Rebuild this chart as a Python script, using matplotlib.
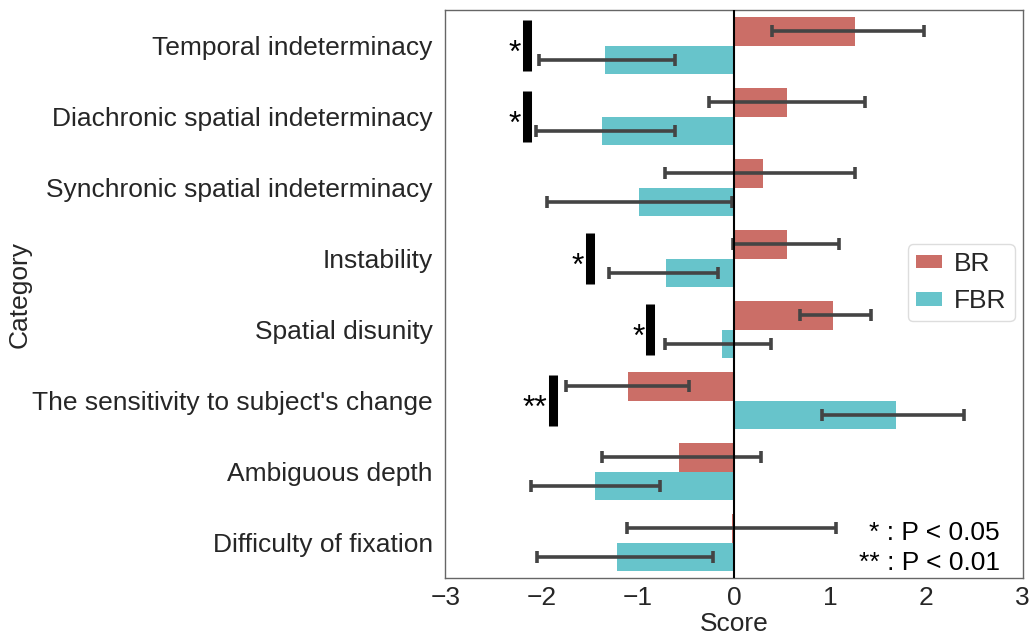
import numpy as np
import matplotlib
matplotlib.use('Agg')
import matplotlib.pyplot as plt

plt.rcParams['font.family'] = ['Liberation Sans', 'DejaVu Sans']

categories = ['Temporal indeterminacy', 'Diachronic spatial indeterminacy',
              'Synchronic spatial indeterminacy', 'Instability', 'Spatial disunity',
              "The sensitivity to subject's change", 'Ambiguous depth',
              'Difficulty of fixation']

# means and confidence limits
br_mean = [1.26, 0.55, 0.30, 0.55, 1.03, -1.10, -0.57, -0.02]
br_lo = [0.40, -0.26, -0.72, -0.01, 0.69, -1.74, -1.37, -1.11]
br_hi = [1.97, 1.36, 1.26, 1.09, 1.42, -0.47, 0.28, 1.06]
fbr_mean = [-1.34, -1.37, -0.99, -0.71, -0.12, 1.68, -1.44, -1.21]
fbr_lo = [-2.03, -2.06, -1.94, -1.30, -0.72, 0.91, -2.11, -2.05]
fbr_hi = [-0.61, -0.61, -0.02, -0.17, 0.39, 2.39, -0.77, -0.22]

# significance markers
sig_idx = [0, 1, 3, 4, 5]
sig_x = [-2.15, -2.15, -1.50, -0.87, -1.88]
sig_label = ['*', '*', '*', '*', '**']

br_color = '#cb6e67'
fbr_color = '#67c4cb'
text_color = '#262626'
fs = 19

fig = plt.figure(figsize=(10.33, 6.36), dpi=100)
ax = fig.add_axes([0.431, 0.091, 0.559, 0.893])

y = np.arange(len(categories))
h = 0.4
br_mean = np.array(br_mean); fbr_mean = np.array(fbr_mean)
br_err = [br_mean - np.array(br_lo), np.array(br_hi) - br_mean]
fbr_err = [fbr_mean - np.array(fbr_lo), np.array(fbr_hi) - fbr_mean]

err_kw = dict(ecolor='#444444', elinewidth=2.6, capsize=4.5, capthick=2.6)
ax.barh(y - h / 2, br_mean, height=h, color=br_color, label='BR',
        xerr=br_err, error_kw=err_kw)
ax.barh(y + h / 2, fbr_mean, height=h, color=fbr_color, label='FBR',
        xerr=fbr_err, error_kw=err_kw)

ax.axvline(0, color='black', lw=1.5, zorder=3)

for i, x, lab in zip(sig_idx, sig_x, sig_label):
    ax.plot([x, x], [i - 0.36, i + 0.36], color='black', lw=6.5,
            solid_capstyle='butt', zorder=4)
    ax.text(x - 0.06, i + 0.12, lab, ha='right', va='center',
            fontsize=23, color='black')

ax.text(2.76, 6.87, '* : P < 0.05', ha='right', va='center', fontsize=fs,
        color='black')
ax.text(2.76, 7.28, '** : P < 0.01', ha='right', va='center', fontsize=fs,
        color='black')

ax.set_xlim(-3, 3)
ax.set_ylim(len(categories) - 0.5, -0.5)
ax.set_yticks(y)
ax.set_yticklabels(categories)
ax.set_xticks([-3, -2, -1, 0, 1, 2, 3])
ax.tick_params(axis='both', length=0, labelsize=fs, labelcolor=text_color,
               pad=6)
ax.tick_params(axis='y', pad=9)
ax.set_xlabel('Score', fontsize=fs, color=text_color, labelpad=1)
ax.set_ylabel('Category', fontsize=fs, color=text_color, labelpad=0)

for s in ax.spines.values():
    s.set_color('#666666')
    s.set_linewidth(1.0)

ax.legend(loc='center right', bbox_to_anchor=(1.0, 0.52), fontsize=fs,
          handlelength=1.0, handleheight=0.4, handletextpad=0.45,
          borderpad=0.3, borderaxespad=0.3, framealpha=1, edgecolor='#dddddd',
          labelcolor=text_color)

fig.savefig('out.png', dpi=100)
